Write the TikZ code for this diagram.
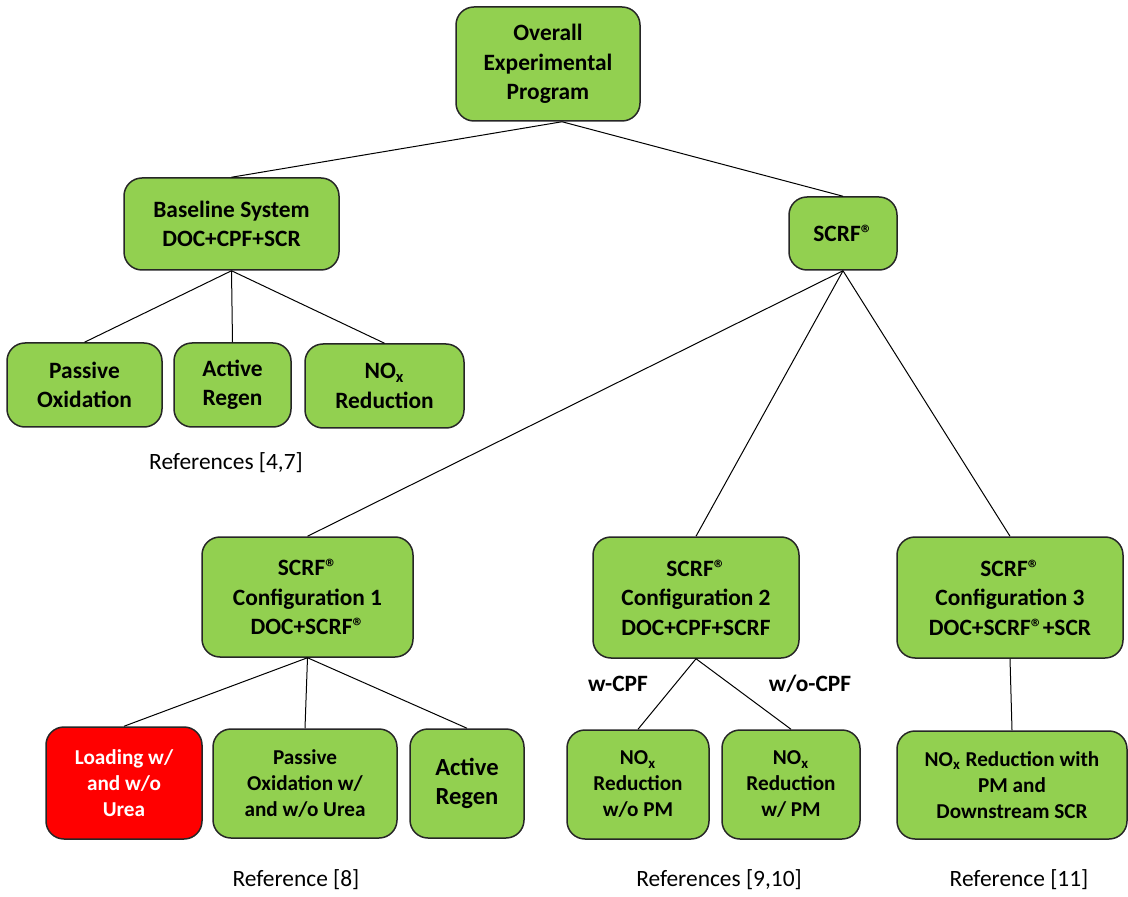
\documentclass[tikz,border=0pt]{standalone}
\usepackage{fontspec}
\setmainfont{Carlito}
\usepackage{xcolor}
\usepackage{tikz}

\definecolor{leafgreen}{HTML}{92D050}
\definecolor{alertred}{HTML}{FF0000}

\begin{document}
\begin{tikzpicture}[x=0.5pt, y=-0.5pt,
    every node/.style={font=\fontsize{11.7pt}{14.75pt}\selectfont},
    box/.style={draw=black!85, line width=0.75pt, fill=leafgreen, rounded corners=9pt,
        align=center, inner sep=0pt, font=\fontsize{11.7pt}{14.75pt}\selectfont\bfseries},
    smallbox/.style={box, font=\fontsize{10.6pt}{13pt}\selectfont\bfseries},
    bigbox/.style={box, font=\fontsize{12.3pt}{14.75pt}\selectfont\bfseries},
    redbox/.style={smallbox, fill=alertred, text=white},
    link/.style={draw=black, line width=0.5pt}]
    \useasboundingbox (0,0) rectangle (1128,897);

    % top levels
    \node[box, minimum width=92pt, minimum height=57pt] (op) at (548,64) {Overall\\Experimental\\Program};
    \node[box, minimum width=107.5pt, minimum height=46pt] (base) at (231.5,224) {Baseline System\\DOC+CPF+SCR};
    \node[box, minimum width=54pt, minimum height=36.5pt] (scrf) at (843,233.5) {SCRF®};

    % baseline system branch
    \node[box, minimum width=77.5pt, minimum height=42pt] (po) at (84.5,385) {Passive\\Oxidation};
    \node[box, minimum width=58.5pt, minimum height=42pt] (ar) at (232.5,385) {Active\\Regen};
    \node[box, minimum width=79.5pt, minimum height=42pt] (nr) at (384.5,386) {NO\textsubscript{x}\\Reduction};
    \node (refa) at (226,463) {References [4,7]};

    % configurations
    \node[box, minimum width=105.5pt, minimum height=60pt] (cfga) at (307.5,597) {SCRF®\\Configuration 1\\DOC+SCRF®};
    \node[box, minimum width=103pt, minimum height=60.5pt] (cfgb) at (696,597.5) {SCRF®\\Configuration 2\\DOC+CPF+SCRF};
    \node[box, minimum width=113pt, minimum height=60.5pt] (cfgc) at (1010,597.5) {SCRF®\\Configuration 3\\DOC+SCRF®+SCR};

    % configuration 1 tests
    \node[redbox, minimum width=78pt, minimum height=56pt] (load) at (124,783) {Loading w/\\and w/o\\Urea};
    \node[smallbox, minimum width=92pt, minimum height=54.5pt] (pox) at (305,783.5) {Passive\\Oxidation w/\\and w/o Urea};
    \node[bigbox, minimum width=57pt, minimum height=54.5pt] (arb) at (467,783.5) {Active\\Regen};
    \node (refb) at (296,880) {Reference [8]};

    % configuration 2 tests
    \node[smallbox, minimum width=71pt, minimum height=54.5pt] (nwo) at (638,784.5) {NO\textsubscript{x}\\Reduction\\w/o PM};
    \node[smallbox, minimum width=69pt, minimum height=54.5pt] (nw) at (791,784.5) {NO\textsubscript{x}\\Reduction\\w/ PM};
    \node[font=\fontsize{11.7pt}{14.75pt}\selectfont\bfseries] (wcpf) at (618,684) {w-CPF};
    \node[font=\fontsize{11.7pt}{14.75pt}\selectfont\bfseries] (wocpf) at (810,684) {w/o-CPF};
    \node (refc) at (719,880) {References [9,10]};

    % configuration 3 test
    \node[smallbox, minimum width=115pt, minimum height=54pt] (nds) at (1012,785) {NO\textsubscript{x} Reduction with\\PM and\\Downstream SCR};
    \node (refd) at (1019,880) {Reference [11]};

    % connectors
    \draw[link] ([xshift=7pt]op.south) -- (base.north);
    \draw[link] ([xshift=7pt]op.south) -- (scrf.north);
    \draw[link] (base.south) -- (po.north);
    \draw[link] (base.south) -- (ar.north);
    \draw[link] (base.south) -- (nr.north);
    \draw[link] (scrf.south) -- (cfga.north);
    \draw[link] (scrf.south) -- (cfgb.north);
    \draw[link] (scrf.south) -- (cfgc.north);
    \draw[link] (cfga.south) -- (load.north);
    \draw[link] (cfga.south) -- (pox.north);
    \draw[link] (cfga.south) -- (arb.north);
    \draw[link] (cfgb.south) -- (nwo.north);
    \draw[link] (cfgb.south) -- (nw.north);
    \draw[link] (cfgc.south) -- (nds.north);
\end{tikzpicture}
\end{document}
